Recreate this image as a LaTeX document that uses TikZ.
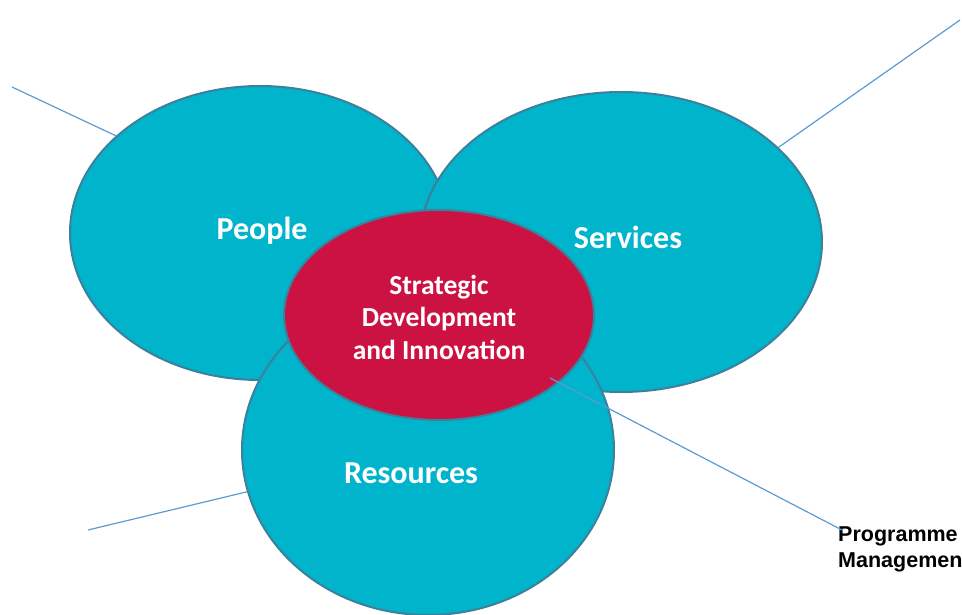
\documentclass[tikz,border=0pt]{standalone}
\usepackage{fontspec}
\setmainfont{Carlito}
\newfontfamily\arialfont{Liberation Sans}
\usetikzlibrary{shapes.geometric}
\definecolor{tealfill}{RGB}{0,180,204}
\definecolor{tealedge}{RGB}{60,128,156}
\definecolor{redfill}{RGB}{204,18,66}
\definecolor{linkblue}{RGB}{91,155,213}
\tikzset{
  bubble/.style={ellipse, draw=tealedge, line width=2pt, fill=tealfill, inner sep=0pt},
  core/.style={ellipse, draw=tealedge, line width=2pt, fill=redfill, inner sep=0pt},
  biglabel/.style={text=white, font=\bfseries\fontsize{32}{38}\selectfont},
  corelabel/.style={text=white, align=center, font=\bfseries\fontsize{27.5}{32.5}\selectfont},
  link/.style={draw=linkblue, line width=1.2pt},
  note/.style={anchor=north west, align=left, inner sep=0pt, font=\arialfont\bfseries\fontsize{21.5}{26}\selectfont}
}
\begin{document}
\begin{tikzpicture}[x=1pt,y=-1pt]
\useasboundingbox (0,0) rectangle (962,615);
\clip (0,0) rectangle (962,615);
\node[bubble, minimum width=380pt, minimum height=294pt] (people) at (260,233) {};
\node[bubble, minimum width=402pt, minimum height=300pt] (services) at (621,242) {};
\node[bubble, minimum width=372pt, minimum height=330pt] (resources) at (428,450) {};
\node[core, minimum width=310pt, minimum height=210pt] (sdi) at (439,315) {};
\node[biglabel] (peoplelbl) at (262,231) {People};
\node[biglabel] (serviceslbl) at (628,237) {Services};
\node[biglabel] (resourceslbl) at (411,473) {Resources};
\node[corelabel] (sdilbl) at (439,317) {Strategic\\Development\\and Innovation};
\node[note] (prog) at (838,527) {Programme\\Management};
\coordinate (pfree) at (12,87);
\coordinate (sfree) at (960,20);
\coordinate (rfree) at (88,530);
\coordinate (cstart) at (550,378);
\coordinate (progend) at (842,530);
\path[link] (pfree) -- (people.146);
\path[link] (sfree) -- (services.31);
\path[link] (rfree) -- (resources.193);
\path[link] (cstart) -- (progend);
\end{tikzpicture}
\end{document}
